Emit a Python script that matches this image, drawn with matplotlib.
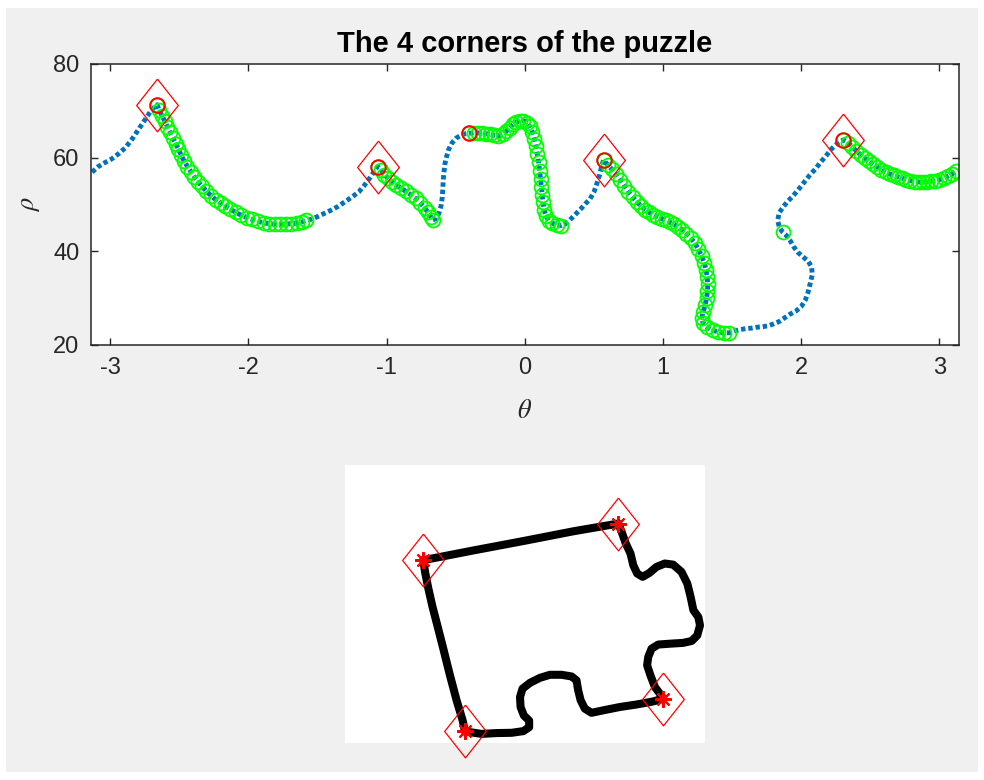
import numpy as np
import matplotlib
matplotlib.use("Agg")
import matplotlib.pyplot as plt
from matplotlib.patches import Rectangle

plt.rcParams['font.family'] = ['Liberation Sans', 'DejaVu Sans']
plt.rcParams['mathtext.fontset'] = 'stix'
plt.rcParams['axes.unicode_minus'] = False

# polar signature of the contour, split into runs along the boundary
# (run_green marks runs that were flagged with green circles)
run_theta = [
    [-3.13, -3.09, -3.04, -2.99, -2.94, -2.89, -2.84, -2.79, -2.74, -2.70],
    [-2.66, -2.645, -2.625, -2.605, -2.585, -2.565, -2.545, -2.525, -2.505, -2.485,
     -2.465, -2.44, -2.415, -2.39, -2.365, -2.335, -2.305, -2.27, -2.235, -2.20,
     -2.165, -2.13, -2.09, -2.05, -2.01, -1.97, -1.93, -1.89, -1.85, -1.81,
     -1.77, -1.73, -1.69, -1.65, -1.61, -1.58],
    [-1.55, -1.50, -1.45, -1.40, -1.35, -1.30, -1.25, -1.20, -1.16, -1.12, -1.09],
    [-1.065, -1.04, -1.015, -0.99, -0.96, -0.93, -0.895, -0.86, -0.825, -0.79,
     -0.755, -0.725, -0.70, -0.68, -0.665],
    [-0.64, -0.62, -0.605, -0.597, -0.593, -0.59, -0.585, -0.578, -0.565, -0.55,
     -0.525, -0.495, -0.46, -0.43],
    [-0.40, -0.37, -0.34, -0.31, -0.28, -0.25, -0.22, -0.19, -0.16, -0.135,
     -0.11, -0.085, -0.06, -0.035, -0.01, 0.015, 0.035, 0.055, 0.07, 0.08,
     0.09, 0.10, 0.108, 0.114, 0.12, 0.126, 0.132, 0.14, 0.155, 0.175,
     0.20, 0.23, 0.265],
    [0.29, 0.32, 0.35, 0.38, 0.41, 0.44, 0.47, 0.50, 0.52, 0.54, 0.555],
    [0.57, 0.60, 0.63, 0.66, 0.69, 0.72, 0.75, 0.78, 0.81, 0.84,
     0.87, 0.90, 0.93, 0.96, 0.99, 1.02, 1.05, 1.08, 1.11, 1.14,
     1.17, 1.20, 1.23, 1.255, 1.28, 1.30, 1.312, 1.32, 1.324, 1.322,
     1.315, 1.305, 1.29, 1.28, 1.29, 1.32, 1.36, 1.40, 1.44, 1.48],
    [1.52, 1.56, 1.60, 1.64, 1.68, 1.72, 1.76, 1.80, 1.84, 1.88,
     1.92, 1.96, 2.00, 2.03, 2.05, 2.065, 2.08, 2.075, 2.05, 2.01,
     1.975, 1.945, 1.92, 1.895],
    [1.865],
    [1.84, 1.83, 1.84, 1.87, 1.90, 1.94, 1.98, 2.02, 2.06, 2.10,
     2.14, 2.18, 2.22, 2.26],
    [2.305, 2.34, 2.37, 2.40, 2.43, 2.46, 2.49, 2.52, 2.55, 2.58,
     2.61, 2.64, 2.67, 2.70, 2.73, 2.76, 2.79, 2.82, 2.85, 2.88,
     2.91, 2.94, 2.97, 3.00, 3.03, 3.06, 3.09, 3.12],
]
run_rho = [
    [56.9, 58.0, 58.9, 59.7, 60.8, 62.1, 64.0, 66.2, 68.4, 70.2],
    [71.3, 70.2, 69.0, 67.8, 66.6, 65.4, 64.2, 63.0, 61.8, 60.5,
     59.3, 58.1, 57.0, 55.9, 54.9, 53.9, 52.9, 51.9, 51.0, 50.3,
     49.6, 49.0, 48.3, 47.7, 47.2, 46.8, 46.4, 46.1, 45.9, 45.8,
     45.8, 45.8, 45.9, 46.0, 46.3, 46.6],
    [46.8, 47.4, 48.1, 48.8, 49.6, 50.6, 51.6, 52.7, 54.1, 55.7, 57.0],
    [58.1, 57.3, 56.4, 55.6, 54.8, 54.1, 53.5, 52.8, 52.1, 51.3,
     50.3, 49.3, 48.3, 47.4, 46.7],
    [47.0, 48.2, 49.8, 51.5, 53.2, 55.0, 56.8, 58.6, 60.3, 61.8,
     63.2, 64.2, 64.8, 65.1],
    [65.2, 65.3, 65.3, 65.2, 65.1, 65.0, 64.8, 64.7, 65.0, 65.6,
     66.4, 67.1, 67.6, 67.9, 67.9, 67.5, 66.7, 65.5, 64.0, 62.4,
     60.8, 59.0, 57.2, 55.5, 53.8, 52.1, 50.5, 48.9, 47.5, 46.5,
     46.0, 45.7, 45.5],
    [45.8, 46.5, 47.4, 48.3, 49.2, 50.2, 51.1, 52.6, 54.3, 56.2, 58.0],
    [59.5, 58.5, 57.5, 56.5, 55.3, 54.0, 52.7, 51.6, 50.6, 49.7,
     48.9, 48.3, 47.8, 47.4, 47.0, 46.6, 46.2, 45.8, 45.3, 44.6,
     43.8, 42.9, 41.8, 40.5, 39.0, 37.5, 36.0, 34.5, 33.0, 31.5,
     30.0, 28.5, 27.0, 25.7, 24.6, 23.8, 23.1, 22.8, 22.6, 22.6],
    [23.0, 23.3, 23.5, 23.6, 23.8, 23.9, 24.1, 24.5, 25.0, 25.8,
     26.6, 27.2, 28.2, 29.6, 31.3, 33.2, 35.0, 36.7, 37.9, 38.9,
     39.8, 41.0, 42.3, 43.3],
    [44.1],
    [45.3, 46.6, 48.2, 49.5, 50.6, 51.8, 53.2, 54.7, 56.2, 57.5,
     59.0, 60.4, 61.9, 63.0],
    [63.8, 63.2, 62.3, 61.4, 60.6, 59.9, 59.2, 58.6, 58.0, 57.4,
     56.9, 56.5, 56.2, 55.9, 55.6, 55.3, 55.1, 54.9, 54.8, 54.8,
     54.9, 55.0, 55.1, 55.3, 55.6, 56.0, 56.5, 57.1],
]
run_green = [False, True, False, True, False, True, False, True, False, True, False, True]

# peaks of the signature (red circles) and the four chosen corners (diamonds)
peak_theta = [-2.66, -1.065, -0.40, 0.57, 2.305]
peak_rho = [71.3, 58.1, 65.2, 59.5, 63.8]
corner_theta = [-2.66, -1.065, 0.57, 2.305]
corner_rho = [71.3, 58.1, 59.5, 63.8]

# puzzle boundary in image pixels (130 x 100 image, y downwards)
contour_x = [28.3, 46.3, 64.4, 82.4, 98.7, 99.9, 101.4, 103.1, 104.1, 105.5,
             107.5, 109.9, 112.5, 115.5, 118.5, 121.5, 123.6, 124.8, 125.8, 127.6,
             128.2, 127.2, 125.2, 122.1, 117.3, 113.1, 110.7, 109.5, 109.1, 110.3,
             111.9, 113.7, 114.9, 111.3, 105.3, 99.3, 93.3, 89.0, 86.6, 85.1,
             84.2, 83.6, 81.8, 78.2, 74.0, 70.4, 66.8, 64.1, 63.2, 63.4,
             64.6, 66.5, 66.5, 64.4, 60.2, 54.8, 49.3, 43.3, 42.5, 40.3,
             37.9, 35.5, 33.5, 31.6, 30.1, 28.9, 28.3]
contour_y = [34.3, 30.8, 27.4, 23.9, 21.1, 24.1, 28.3, 31.9, 36.1, 39.1,
             40.3, 38.9, 36.7, 35.5, 35.9, 38.5, 42.7, 47.5, 52.3, 54.8,
             57.8, 61.4, 63.4, 64.1, 64.4, 64.7, 66.2, 69.2, 72.2, 75.8,
             80.0, 82.4, 84.2, 85.2, 86.3, 87.2, 88.4, 89.3, 87.8, 84.8,
             81.2, 77.6, 76.2, 75.6, 75.6, 76.7, 78.5, 80.6, 83.6, 87.2,
             90.3, 92.1, 94.5, 95.9, 96.5, 96.6, 96.9, 96.0, 92.1, 84.8,
             75.8, 66.2, 58.4, 51.1, 44.5, 38.5, 34.3]
img_corner_x = [28.3, 98.7, 114.9, 43.3]
img_corner_y = [34.3, 21.1, 84.2, 96.0]

W, H = 984, 780
AX_COLOR = '#262626'
BLUE = '#0072BD'
diamond = [(0, 1), (0.79, 0), (0, -1), (-0.79, 0), (0, 1)]

fig = plt.figure(figsize=(W / 100, H / 100), dpi=100, facecolor='white')
fig.add_artist(Rectangle((6 / W, 8 / H), 972 / W, 764 / H, transform=fig.transFigure,
                         facecolor='#f0f0f0', edgecolor='none', zorder=-10))

# --- signature plot ---
ax1 = fig.add_axes([90.5 / W, 1 - 345 / H, 868.5 / W, 281 / H])
all_theta = np.concatenate(run_theta)
all_rho = np.concatenate(run_rho)
ax1.plot(all_theta, all_rho, color=BLUE, lw=3.5, ls=(0, (0.9, 0.6)))
for th, rh, g in zip(run_theta, run_rho, run_green):
    if g:
        ax1.plot(th, rh, 'o', ms=10, mfc='none', mec='#00ff00', mew=1.3)
ax1.plot(peak_theta, peak_rho, 'o', ms=10.5, mfc='none', mec='red', mew=1.4)
ax1.plot(corner_theta, corner_rho, ls='none', marker=diamond, ms=38,
         mfc='none', mec='red', mew=0.9)

ax1.set_xlim(-np.pi, np.pi)
ax1.set_ylim(20, 80)
ax1.set_xticks([-3, -2, -1, 0, 1, 2, 3])
ax1.set_yticks([20, 40, 60, 80])
ax1.tick_params(direction='in', top=True, right=True, length=5, width=1,
                color=AX_COLOR, labelcolor=AX_COLOR, labelsize=17)
ax1.tick_params(axis='x', pad=9)
ax1.tick_params(axis='y', pad=8)
for sp in ax1.spines.values():
    sp.set_color(AX_COLOR)
    sp.set_linewidth(1.1)
ax1.set_title('The 4 corners of the puzzle', fontsize=21, fontweight='bold',
              color='black', pad=9)
ax1.set_xlabel(r'$\theta$', fontsize=19, color=AX_COLOR, labelpad=14)
ax1.set_ylabel(r'$\rho$', fontsize=19, color=AX_COLOR, labelpad=8)

# --- contour image ---
ax2 = fig.add_axes([345 / W, 1 - 742.5 / H, 360 / W, 277.5 / H])
ax2.set_facecolor('white')
ax2.plot(contour_x, contour_y, color='black', lw=5.8,
         solid_joinstyle='round', solid_capstyle='round')
ax2.plot(img_corner_x, img_corner_y, ls='none', marker=(8, 2, 0), ms=12,
         mec='red', mew=1.5)
ax2.plot(img_corner_x, img_corner_y, ls='none', marker=diamond, ms=38,
         mfc='none', mec='red', mew=0.9, clip_on=False)
ax2.set_xlim(0, 130)
ax2.set_ylim(100, 0)
ax2.set_xticks([])
ax2.set_yticks([])
for sp in ax2.spines.values():
    sp.set_visible(False)

fig.savefig('out.png', dpi=100, facecolor=fig.get_facecolor())
